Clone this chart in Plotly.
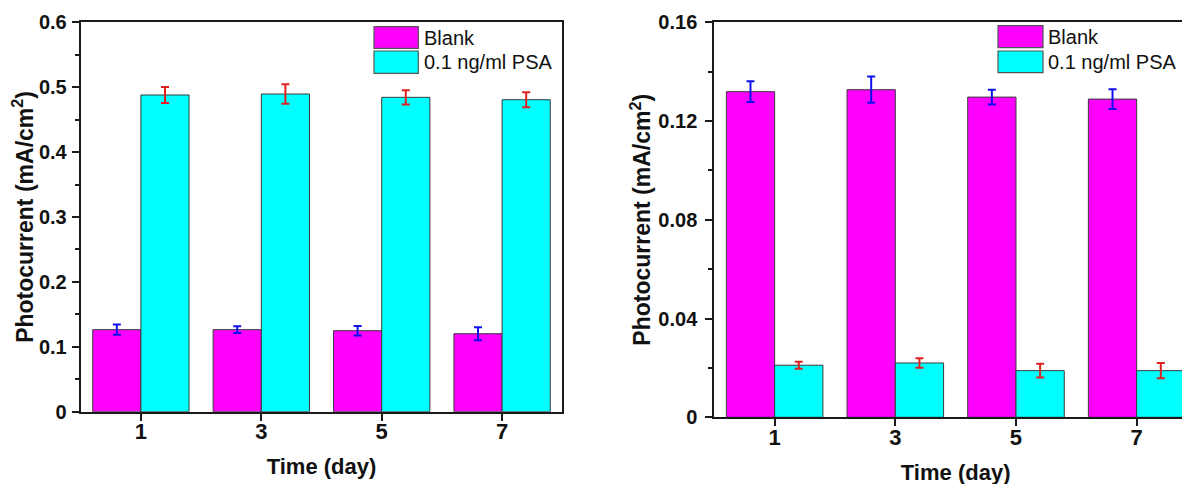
import plotly.graph_objects as go

# ---------------- data ----------------
days = ["1", "3", "5", "7"]

left_blank = [0.1264, 0.1264, 0.1248, 0.1202]
left_blank_err = [0.0080, 0.0052, 0.0072, 0.0100]
left_psa = [0.4880, 0.4895, 0.4844, 0.4807]
left_psa_err = [0.0124, 0.0150, 0.0110, 0.0115]

right_blank = [0.1319, 0.1327, 0.1297, 0.1289]
right_blank_err = [0.0042, 0.0053, 0.0030, 0.0040]
right_psa = [0.0211, 0.0220, 0.0189, 0.0189]
right_psa_err = [0.0014, 0.0019, 0.0028, 0.0031]

series_names = ["Blank", "0.1 ng/ml PSA"]
left_yticks = [0, 0.1, 0.2, 0.3, 0.4, 0.5, 0.6]
left_ytext = ["0", "0.1", "0.2", "0.3", "0.4", "0.5", "0.6"]
right_yticks = [0, 0.04, 0.08, 0.12, 0.16]
right_ytext = ["0", "0.04", "0.08", "0.12", "0.16"]

# ---------------- style ----------------
W, H = 1190, 484
OFF = 8  # the page body margin shifts the figure by 8 px
FONT = "Liberation Sans, Arial, Helvetica, sans-serif"
MAGENTA = "#FF00FF"
CYAN = "#00FFFF"
AXC = "#1a1a1a"


def bar(x, y, err, color, errcolor, name, xa, ya):
    return go.Bar(
        x=x, y=y, name=name, xaxis=xa, yaxis=ya, showlegend=False,
        marker=dict(color=color, line=dict(color="#3a3a3a", width=1)),
        error_y=dict(type="data", array=err, visible=True, color=errcolor,
                     thickness=2, width=4),
    )


fig = go.Figure()
fig.add_trace(bar(days, left_blank, left_blank_err, MAGENTA, "#1010ee", series_names[0], "x", "y"))
fig.add_trace(bar(days, left_psa, left_psa_err, CYAN, "#e02020", series_names[1], "x", "y"))
fig.add_trace(bar(days, right_blank, right_blank_err, MAGENTA, "#1010ee", series_names[0], "x2", "y2"))
fig.add_trace(bar(days, right_psa, right_psa_err, CYAN, "#e02020", series_names[1], "x2", "y2"))


def px(v):
    return min(1.0, (v - OFF) / W)


def py(v):
    return (H - (v - OFF)) / H


xcommon = dict(
    type="category", showline=True, linecolor=AXC, linewidth=2, automargin=False,
    ticks="outside", ticklen=7, tickwidth=2, tickcolor=AXC, ticklabelstandoff=-8,
    tickfont=dict(family=FONT, size=22, color="#111", weight="bold"),
    showgrid=False, zeroline=False,
    title=dict(text="Time (day)", font=dict(family=FONT, size=22, color="#111", weight="bold"), standoff=16),
)
ycommon = dict(
    showline=True, linecolor=AXC, linewidth=2, automargin=False,
    ticks="outside", ticklen=7, tickwidth=2, tickcolor=AXC,
    tickfont=dict(family=FONT, size=20, color="#111", weight="bold"),
    showgrid=False, zeroline=False,
)
ytitle_font = dict(family=FONT, size=23, color="#111", weight="bold")
ytitle_text = "Photocurrent (mA/cm<sup>2</sup>)"

fig.update_layout(
    width=W, height=H,
    margin=dict(l=0, r=0, t=0, b=0, autoexpand=False),
    paper_bgcolor="white", plot_bgcolor="white",
    barmode="group", bargap=0.2, bargroupgap=0,
    showlegend=False,
    xaxis=dict(xcommon, domain=[px(80.7), px(562.3)], range=[-0.5, 3.5],
               anchor="y", mirror=True),
    yaxis=dict(ycommon, domain=[py(411.7), py(22.3)], range=[0, 0.6],
               tickvals=left_yticks, ticktext=left_ytext, ticklabelstandoff=1,
               title=dict(text=ytitle_text, font=ytitle_font, standoff=9),
               minor=dict(ticks="outside", ticklen=4, tickwidth=2, tickcolor=AXC, dtick=0.05, tick0=0),
               anchor="x", mirror=True),
    xaxis2=dict(xcommon, domain=[px(714.3), px(1197)], range=[-0.5, 3.5],
                anchor="y2", mirror=True),
    yaxis2=dict(ycommon, domain=[py(417.3), py(22.3)], range=[0, 0.16],
                tickvals=right_yticks, ticktext=right_ytext, ticklabelstandoff=4,
                title=dict(text=ytitle_text, font=ytitle_font, standoff=1),
                minor=dict(ticks="outside", ticklen=4, tickwidth=2, tickcolor=AXC, dtick=0.02, tick0=0),
                anchor="x2", mirror=False),
)


# ---------------- legends (drawn as boxes + text) ----------------
def add_legend(x0, x1, tx, rows):
    for (y0, y1), color, name in zip(rows, [MAGENTA, CYAN], series_names):
        fig.add_shape(type="rect", xref="paper", yref="paper",
                      x0=px(x0), x1=px(x1), y0=py(y1), y1=py(y0),
                      fillcolor=color, line=dict(color="#555", width=1.2))
        fig.add_annotation(xref="paper", yref="paper", x=px(tx), y=py((y0 + y1) / 2),
                           text=name, showarrow=False, xanchor="left", yanchor="middle",
                           font=dict(family=FONT, size=20, color="#111"))


add_legend(374, 418.3, 422, [(26.7, 48.3), (51, 73.3)])
add_legend(998, 1043, 1046, [(25.7, 47.7), (51, 72.7)])

fig.write_html("out.html")
